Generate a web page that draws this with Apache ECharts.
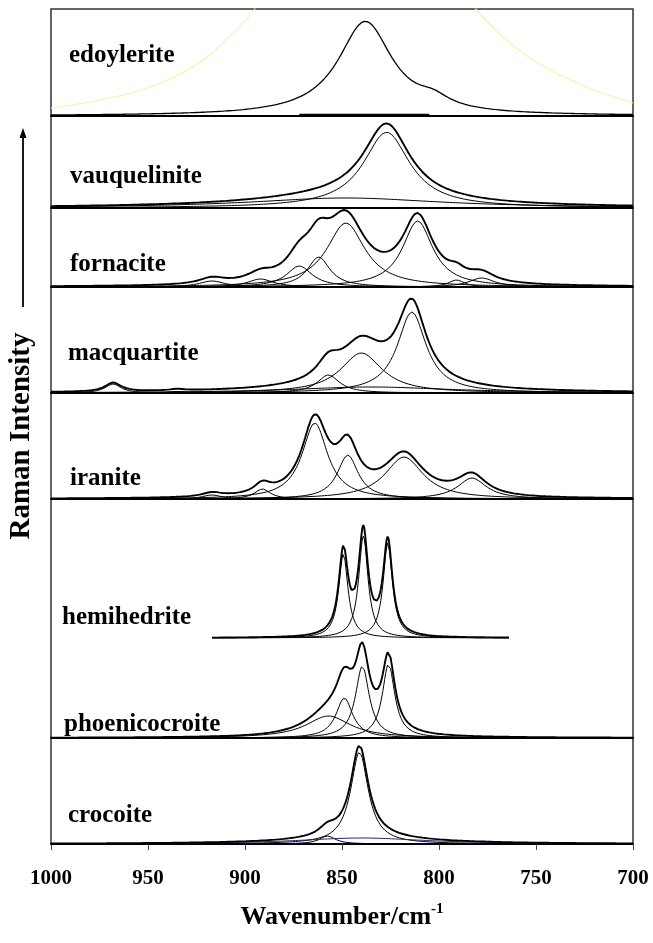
<!DOCTYPE html>
<html><head><meta charset="utf-8">
<script src="https://cdn.jsdelivr.net/npm/echarts@6/dist/echarts.min.js"></script>
<style>html,body{margin:0;padding:0;background:#fff}#c{width:653px;height:943px}</style>
</head><body><div id="c"></div>
<script>
// ---------------- data ----------------
const wavenumberTicks = [1000, 950, 900, 850, 800, 750, 700];
const minerals = ['edoylerite', 'vauquelinite', 'fornacite', 'macquartite', 'iranite', 'hemihedrite', 'phoenicocroite', 'crocoite'];

// fitted Raman bands: centre (cm-1), intensity (arb.), half-width (cm-1)
const edoyleriteCentre = [838, 803];
const edoyleriteHeight = [94, 9];
const edoyleriteWidth = [17, 10];
const edoyleriteBaseTrace = [[872, 0.9], [805, 0.9]];
const edoyleriteFaintLeft = [[1000, 8], [975, 16], [949, 29], [923, 54], [906, 83], [895, 107], [890, 125]];
const edoyleriteFaintRight = [[786, 125], [781, 107], [767, 79], [750, 54], [724, 29], [700, 13]];

const vauqueliniteCentre = [848, 827];
const vauqueliniteHeight = [10, 75.7];
const vauqueliniteWidth = [60, 14.6];

const fornaciteCentre = [917, 892, 872, 862, 848, 811, 791, 778];
const fornaciteHeight = [6, 8, 21, 30, 64, 66, 7, 9];
const fornaciteWidth = [8, 8, 8, 7, 12, 9.5, 5, 8];

const macquartiteCentre = [968, 935, 857, 840, 835, 814];
const macquartiteHeight = [9, 1.5, 18, 40, 6, 81];
const macquartiteWidth = [5, 5, 7, 13, 50, 9];

const iraniteCentre = [917, 891, 864, 847, 818, 783];
const iraniteHeight = [4, 10, 76, 44, 42, 21];
const iraniteWidth = [6, 5, 8, 6.5, 12, 9];

const hemihedriteCentre = [849.3, 839, 826.4];
const hemihedriteHeight = [84, 102, 95];
const hemihedriteWidth = [2.9, 2.9, 2.9];
const hemihedriteRange = [764, 917];

const phoenicocroiteCentre = [857, 848.8, 839.5, 826];
const phoenicocroiteHeight = [22, 40, 72, 74];
const phoenicocroiteWidth = [14, 5.2, 4.3, 3.9];

const crocoiteCentre = [857.5, 841, 840];
const crocoiteHeight = [8, 92, 6];
const crocoiteWidth = [5, 5.5, 40];

// ---------------- chart construction ----------------
const bands = {
  edoylerite: [edoyleriteCentre, edoyleriteHeight, edoyleriteWidth],
  vauquelinite: [vauqueliniteCentre, vauqueliniteHeight, vauqueliniteWidth],
  fornacite: [fornaciteCentre, fornaciteHeight, fornaciteWidth],
  macquartite: [macquartiteCentre, macquartiteHeight, macquartiteWidth],
  iranite: [iraniteCentre, iraniteHeight, iraniteWidth],
  hemihedrite: [hemihedriteCentre, hemihedriteHeight, hemihedriteWidth],
  phoenicocroite: [phoenicocroiteCentre, phoenicocroiteHeight, phoenicocroiteWidth],
  crocoite: [crocoiteCentre, crocoiteHeight, crocoiteWidth]
};

const FONT = '"Liberation Serif", "Times New Roman", serif';
const L = 51, R = 20;
const layout = {
  edoylerite:     {top: 9,   height: 107, axis: true,  comps: false, label: [69, 56]},
  vauquelinite:   {top: 116, height: 92,  axis: true,  comps: true,  label: [70, 177]},
  fornacite:      {top: 208, height: 79,  axis: true,  comps: true,  label: [70, 265]},
  macquartite:    {top: 287, height: 106, axis: true,  comps: true,  label: [68, 354]},
  iranite:        {top: 393, height: 106, axis: true,  comps: true,  label: [70, 479]},
  hemihedrite:    {top: 499, height: 139, axis: false, comps: true,  label: [62, 618]},
  phoenicocroite: {top: 638, height: 100, axis: true,  comps: true,  label: [64, 725]},
  crocoite:       {top: 738, height: 106, axis: true,  comps: true,  label: [68, 816]}
};

function lor(x, c, h, g) { const d = (x - c) / g; return h / (1 + d * d); }
function samples(lo, hi) { const a = []; for (let x = hi; x >= lo - 1e-9; x -= 0.5) a.push(+x.toFixed(2)); return a; }

const grids = [], xAxes = [], yAxes = [], series = [], graphics = [];

minerals.forEach((m, i) => {
  const lay = layout[m];
  const isBottom = m === 'crocoite';
  grids.push({left: L, right: R, top: lay.top, height: lay.height, containLabel: false});
  xAxes.push({
    gridIndex: i, type: 'value', min: 700, max: 1000, interval: 50, inverse: true,
    axisLine: {show: lay.axis, onZero: false, lineStyle: {color: '#000', width: 2}},
    axisTick: {show: isBottom, length: 6, inside: false, lineStyle: {color: '#444', width: 1}},
    axisLabel: {show: isBottom, margin: 24, color: '#000', fontFamily: FONT, fontWeight: 'bold', fontSize: 21,
      formatter: v => (wavenumberTicks.indexOf(v) >= 0 ? String(v) : '')},
    splitLine: {show: false},
    name: isBottom ? '{a|Wavenumber/cm}{s|-1}' : '',
    nameLocation: 'middle', nameGap: 58,
    nameTextStyle: {rich: {
      a: {fontFamily: FONT, fontWeight: 'bold', fontSize: 26, color: '#000', lineHeight: 30},
      s: {fontFamily: FONT, fontWeight: 'bold', fontSize: 15, color: '#000', verticalAlign: 'top', lineHeight: 15}
    }}
  });
  yAxes.push({gridIndex: i, type: 'value', min: 0, max: lay.height, show: false});

  const [C, H, G] = bands[m];
  const rng = m === 'hemihedrite' ? hemihedriteRange : [700, 1000];
  const xs = samples(rng[0], rng[1]);
  const base = {type: 'line', xAxisIndex: i, yAxisIndex: i, symbol: 'none', showSymbol: false, silent: true, clip: true, animation: false};
  if (lay.comps) {
    C.forEach((c, k) => {
      series.push(Object.assign({}, base, {
        data: xs.map(x => [x, lor(x, c, H[k], G[k])]),
        lineStyle: {color: (m === 'crocoite' && k === 2) ? '#22227a' : '#000', width: 1}
      }));
    });
  }
  series.push(Object.assign({}, base, {
    data: xs.map(x => [x, C.reduce((s, c, k) => s + lor(x, c, H[k], G[k]), 0)]),
    lineStyle: {color: '#000', width: m === 'edoylerite' ? 1.3 : 1.9},
    z: 3
  }));
  if (m === 'edoylerite') {
    series.push(Object.assign({}, base, {data: edoyleriteBaseTrace, lineStyle: {color: '#000', width: 2.5}}));
    series.push(Object.assign({}, base, {data: edoyleriteFaintLeft, smooth: 0.4, lineStyle: {color: '#f4f4b0', width: 1.2}}));
    series.push(Object.assign({}, base, {data: edoyleriteFaintRight, smooth: 0.4, lineStyle: {color: '#f4f4b0', width: 1.2}}));
  }
  graphics.push({type: 'text', x: lay.label[0], y: lay.label[1], z: 10,
    style: {text: m, font: 'bold 25px ' + FONT, fill: '#000', textAlign: 'left', textVerticalAlign: 'middle'}});
});

// outer frame
grids.push({left: L, right: R, top: 9, height: 835, show: true, borderColor: '#333', borderWidth: 1.5, backgroundColor: 'transparent'});
xAxes.push({gridIndex: 8, type: 'value', min: 700, max: 1000, show: false});
yAxes.push({gridIndex: 8, type: 'value', min: 0, max: 1, show: false});

// y-axis title and arrow
graphics.push({type: 'text', x: 22, y: 436, rotation: Math.PI / 2,
  style: {text: 'Raman Intensity', font: 'bold 29px ' + FONT, fill: '#000', textAlign: 'center', textVerticalAlign: 'middle'}});
graphics.push({type: 'line', shape: {x1: 23, y1: 307, x2: 23, y2: 136}, style: {stroke: '#000', lineWidth: 1.8}});
graphics.push({type: 'polygon', shape: {points: [[23, 128], [19.5, 138], [26.5, 138]]}, style: {fill: '#000'}});

const chart = echarts.init(document.getElementById('c'), null, {renderer: 'canvas'});
chart.setOption({
  animation: false,
  backgroundColor: '#fff',
  grid: grids, xAxis: xAxes, yAxis: yAxes, series: series, graphic: graphics
});
</script>
</body></html>
